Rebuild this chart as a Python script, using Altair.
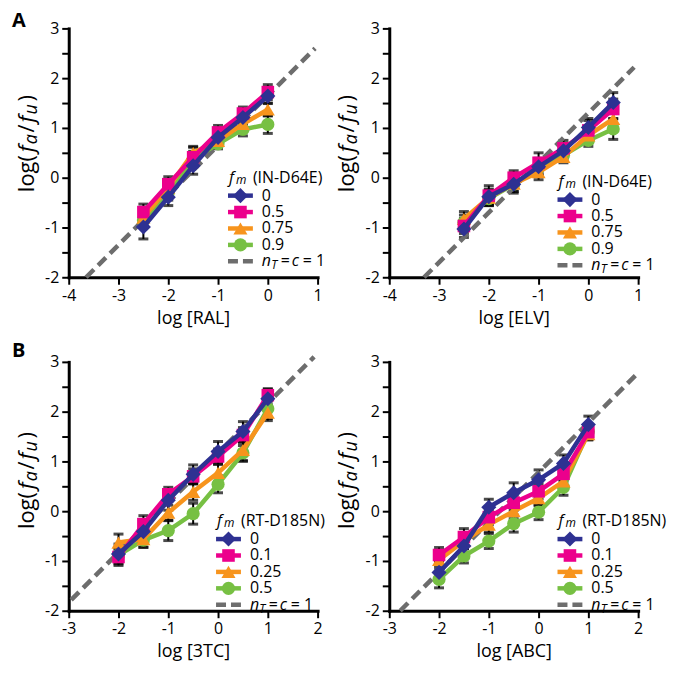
import altair as alt
import pandas as pd

FONT = "Open Sans"
PX = 50.0  # pixels per data unit in each 250-px panel

FM_A = ["0", "0.5", "0.75", "0.9"]
FM_B = ["0", "0.1", "0.25", "0.5"]
COLORS = ["#2e3192", "#ec008c", "#f7941d", "#77c043"]
SHAPES = ["diamond", "square", "triangle-up", "circle"]
SIZES = [230, 160, 200, 175]
DASH_GRAY = "#6d6d6d"

X_TICKS_A = [-4, -3, -2, -1, 0, 1]
X_TICKS_B = [-3, -2, -1, 0, 1, 2]
Y_TICKS = [-2, -1.5, -1, -0.5, 0, 0.5, 1, 1.5, 2, 2.5, 3]

# ---- Panel A, left: log [RAL] ----
RAL_X = [-2.5, -2, -1.5, -1, -0.5, 0]
RAL_Y0 = [-0.99, -0.39, 0.24, 0.81, 1.21, 1.64]
RAL_E0 = [0.24, 0.17, 0.17, 0.18, 0.16, 0.15]
RAL_Y1 = [-0.69, -0.13, 0.41, 0.91, 1.29, 1.72]
RAL_E1 = [0.16, 0.15, 0.20, 0.14, 0.13, 0.15]
RAL_Y2 = [-0.80, -0.20, 0.50, 0.74, 1.08, 1.37]
RAL_E2 = [0.15, 0.15, 0.13, 0.13, 0.15, 0.13]
RAL_Y3 = [-0.85, -0.30, 0.38, 0.68, 0.97, 1.07]
RAL_E3 = [0.15, 0.15, 0.15, 0.10, 0.13, 0.18]

# ---- Panel A, right: log [ELV] ----
ELV_X = [-2.5, -2, -1.5, -1, -0.5, 0, 0.5]
ELV_Y0 = [-1.03, -0.38, -0.13, 0.22, 0.54, 1.01, 1.51]
ELV_E0 = [0.17, 0.15, 0.18, 0.17, 0.15, 0.18, 0.20]
ELV_Y1 = [-0.97, -0.36, 0.00, 0.30, 0.59, 0.95, 1.38]
ELV_E1 = [0.15, 0.20, 0.14, 0.20, 0.16, 0.20, 0.20]
ELV_Y2 = [-0.83, -0.40, -0.12, 0.11, 0.42, 0.85, 1.18]
ELV_E2 = [0.15, 0.15, 0.15, 0.15, 0.12, 0.15, 0.15]
ELV_Y3 = [-0.90, -0.42, -0.13, 0.20, 0.45, 0.75, 0.98]
ELV_E3 = [0.15, 0.14, 0.15, 0.15, 0.12, 0.12, 0.21]

# ---- Panel B, left: log [3TC] ----
TTC_X = [-2, -1.5, -1, -0.5, 0, 0.5, 1]
TTC_Y0 = [-0.86, -0.41, 0.22, 0.74, 1.20, 1.60, 2.26]
TTC_E0 = [0.20, 0.20, 0.20, 0.19, 0.20, 0.20, 0.20]
TTC_Y1 = [-0.92, -0.26, 0.34, 0.70, 1.10, 1.53, 2.33]
TTC_E1 = [0.17, 0.17, 0.14, 0.15, 0.15, 0.15, 0.12]
TTC_Y2 = [-0.63, -0.56, -0.03, 0.39, 0.77, 1.23, 1.98]
TTC_E2 = [0.17, 0.17, 0.15, 0.17, 0.17, 0.23, 0.16]
TTC_Y3 = [-0.88, -0.58, -0.39, -0.05, 0.54, 1.17, 2.06]
TTC_E3 = [0.15, 0.14, 0.20, 0.21, 0.17, 0.15, 0.20]

# ---- Panel B, right: log [ABC] ----
ABC_X = [-2, -1.5, -1, -0.5, 0, 0.5, 1]
ABC_Y0 = [-1.23, -0.70, 0.08, 0.37, 0.63, 0.96, 1.74]
ABC_E0 = [0.20, 0.18, 0.16, 0.20, 0.20, 0.17, 0.17]
ABC_Y1 = [-0.88, -0.52, -0.12, 0.17, 0.40, 0.75, 1.59]
ABC_E1 = [0.15, 0.17, 0.15, 0.15, 0.15, 0.15, 0.15]
ABC_Y2 = [-0.98, -0.60, -0.27, 0.00, 0.26, 0.60, 1.55]
ABC_E2 = [0.15, 0.15, 0.15, 0.15, 0.15, 0.15, 0.12]
ABC_Y3 = [-1.37, -0.90, -0.60, -0.25, -0.02, 0.48, 1.60]
ABC_E3 = [0.17, 0.14, 0.15, 0.17, 0.15, 0.16, 0.15]

# y-axis title pieces (distance along the text in px)
YT_NORMAL = ["log(", "/", ")"]
YT_NORMAL_AT = [0, 60, 91]
YT_ITALIC = ["f", "f"]
YT_ITALIC_AT = [40, 70]
YT_SUB = ["a", "u"]
YT_SUB_AT = [48, 78]

LBL = "datum.value % 1 == 0 ? (datum.value < 0 ? '-' + abs(datum.value) : '' + datum.value) : ''"


def build_panel(letter, letter_dy, xdom, xticks, xtitle, group, fms, xs, ys_list, es_list,
                diag_c, diag_x, leg_x, leg_y, yt0):
    xsc = alt.Scale(domain=xdom, nice=False, zero=False)
    ysc = alt.Scale(domain=[-2, 3], nice=False, zero=False)
    xax = alt.Axis(values=xticks, title=xtitle, labelExpr=LBL)
    yax = alt.Axis(values=Y_TICKS, title=None, labelExpr=LBL)

    def X(f):
        return alt.X(f, type="quantitative", scale=xsc, axis=xax)

    def Y(f):
        return alt.Y(f, type="quantitative", scale=ysc, axis=yax)

    layers = []
    rows = []
    for k in range(4):
        for xv, yv, ev in zip(xs, ys_list[k], es_list[k]):
            rows.append({"x": xv, "lo": yv - ev, "hi": yv + ev})
    err = pd.DataFrame(rows)
    layers.append(alt.Chart(err).mark_rule(color="black", strokeWidth=2).encode(
        x=X("x"), y=Y("lo"), y2=alt.Y2("hi")))
    caps = pd.concat([err[["x", "lo"]].rename(columns={"lo": "y"}),
                      err[["x", "hi"]].rename(columns={"hi": "y"})], ignore_index=True)
    layers.append(alt.Chart(caps).mark_tick(color="black", thickness=3, size=10,
                                            orient="horizontal").encode(x=X("x"), y=Y("y")))

    diag = pd.DataFrame({"x": diag_x, "y": [v + diag_c for v in diag_x]})
    layers.append(alt.Chart(diag).mark_line(color=DASH_GRAY, strokeWidth=4.5,
                                            strokeDash=[11, 6]).encode(x=X("x"), y=Y("y")))

    for k in [3, 2, 1, 0]:
        d = pd.DataFrame({"x": xs, "y": ys_list[k]})
        layers.append(alt.Chart(d).mark_line(color=COLORS[k], strokeWidth=4.5).encode(
            x=X("x"), y=Y("y")))
        layers.append(alt.Chart(d).mark_point(shape=SHAPES[k], filled=True, opacity=1,
                                              size=SIZES[k], color=COLORS[k]).encode(
            x=X("x"), y=Y("y")))

    # legend
    row_y = [leg_y - 0.36 - 0.33 * i for i in range(5)]
    leg = pd.DataFrame({"s": fms, "x0": [leg_x] * 4, "x1": [leg_x + 0.5] * 4,
                        "xm": [leg_x + 0.25] * 4, "y": row_y[:4], "sz": SIZES})
    cscale = alt.Scale(domain=fms, range=COLORS)
    layers.append(alt.Chart(leg).mark_rule(strokeWidth=4.5).encode(
        x=X("x0"), x2=alt.X2("x1"), y=Y("y"),
        color=alt.Color("s:N", scale=cscale, legend=None)))
    layers.append(alt.Chart(leg).mark_point(filled=True, opacity=1).encode(
        x=X("xm"), y=Y("y"),
        color=alt.Color("s:N", scale=cscale, legend=None),
        shape=alt.Shape("s:N", scale=alt.Scale(domain=fms, range=SHAPES), legend=None),
        size=alt.Size("sz:Q", scale=None, legend=None)))
    dleg = pd.DataFrame({"x0": [leg_x], "x1": [leg_x + 0.5], "y": [row_y[4]]})
    layers.append(alt.Chart(dleg).mark_rule(color=DASH_GRAY, strokeWidth=4.5,
                                            strokeDash=[10, 5]).encode(
        x=X("x0"), x2=alt.X2("x1"), y=Y("y")))

    tx = leg_x + 0.02
    lx = leg_x + 0.68
    ty = leg_y
    normal = ([("(" + group + ")", tx + 24 / PX, ty)]
              + [(fms[i], lx, row_y[i]) for i in range(4)]
              + [("=", lx + 19 / PX, row_y[4]), ("= 1", lx + 41 / PX, row_y[4])])
    italic = [("f", tx, ty), ("n", lx, row_y[4]), ("c", lx + 30 / PX, row_y[4])]
    small = [("m", tx + 7 / PX, ty - 2 / PX), ("T", lx + 9.5 / PX, row_y[4] - 4 / PX)]

    def tdf(items):
        return pd.DataFrame({"t": [a for a, _, _ in items], "x": [b for _, b, _ in items],
                             "y": [c for _, _, c in items]})

    base_t = dict(font=FONT, align="left", baseline="middle", color="black")
    layers.append(alt.Chart(tdf(normal)).mark_text(fontSize=16, **base_t).encode(
        x=X("x"), y=Y("y"), text=alt.Text("t:N")))
    layers.append(alt.Chart(tdf(italic)).mark_text(fontSize=16, fontStyle="italic", **base_t).encode(
        x=X("x"), y=Y("y"), text=alt.Text("t:N")))
    layers.append(alt.Chart(tdf(small)).mark_text(fontSize=12, fontStyle="italic", **base_t).encode(
        x=X("x"), y=Y("y"), text=alt.Text("t:N")))

    # rotated y-axis title built from pieces
    x0 = xdom[0]
    yt_base = dict(font=FONT, align="left", baseline="alphabetic", color="black", angle=270)
    ytn = pd.DataFrame({"t": YT_NORMAL, "x": [x0] * len(YT_NORMAL),
                        "y": [yt0 + a / PX for a in YT_NORMAL_AT]})
    yti = pd.DataFrame({"t": YT_ITALIC, "x": [x0] * len(YT_ITALIC),
                        "y": [yt0 + a / PX for a in YT_ITALIC_AT]})
    yts = pd.DataFrame({"t": YT_SUB, "x": [x0] * len(YT_SUB),
                        "y": [yt0 + a / PX for a in YT_SUB_AT]})
    layers.append(alt.Chart(ytn).mark_text(fontSize=22, dy=-35, **yt_base).encode(
        x=X("x"), y=Y("y"), text=alt.Text("t:N")))
    layers.append(alt.Chart(yti).mark_text(fontSize=22, dy=-35, fontStyle="italic", **yt_base).encode(
        x=X("x"), y=Y("y"), text=alt.Text("t:N")))
    layers.append(alt.Chart(yts).mark_text(fontSize=18, dy=-32, fontStyle="italic", **yt_base).encode(
        x=X("x"), y=Y("y"), text=alt.Text("t:N")))

    if letter:
        ldf = pd.DataFrame({"t": [letter], "x": [x0], "y": [3]})
        layers.append(alt.Chart(ldf).mark_text(font=FONT, fontSize=20, fontWeight="bold",
                                               align="left", baseline="top", color="black",
                                               dx=-57, dy=letter_dy).encode(
            x=X("x"), y=Y("y"), text=alt.Text("t:N")))

    return alt.layer(*layers).properties(width=250, height=250)


pA1 = build_panel("A", -17, [-4, 1], X_TICKS_A, "log [RAL]", "IN-D64E", FM_A, RAL_X,
                  [RAL_Y0, RAL_Y1, RAL_Y2, RAL_Y3], [RAL_E0, RAL_E1, RAL_E2, RAL_E3],
                  1.65, [-3.65, 0.95], -0.80, 0.0, -0.29)
pA2 = build_panel(None, 0, [-4, 1], X_TICKS_A, "log [ELV]", "IN-D64E", FM_A, ELV_X,
                  [ELV_Y0, ELV_Y1, ELV_Y2, ELV_Y3], [ELV_E0, ELV_E1, ELV_E2, ELV_E3],
                  1.30, [-3.30, 0.92], -0.62, -0.08, -0.29)
pB1 = build_panel("B", -21, [-3, 2], X_TICKS_B, "log [3TC]", "RT-D185N", FM_B, TTC_X,
                  [TTC_Y0, TTC_Y1, TTC_Y2, TTC_Y3], [TTC_E0, TTC_E1, TTC_E2, TTC_E3],
                  1.17, [-2.95, 1.93], -0.04, -0.20, -0.36)
pB2 = build_panel(None, 0, [-3, 2], X_TICKS_B, "log [ABC]", "RT-D185N", FM_B, ABC_X,
                  [ABC_Y0, ABC_Y1, ABC_Y2, ABC_Y3], [ABC_E0, ABC_E1, ABC_E2, ABC_E3],
                  0.78, [-2.78, 2.02], 0.38, -0.20, -0.36)

chart = alt.concat(pA1, pA2, pB1, pB2, columns=2, spacing={"row": 85, "column": 72},
                   bounds="flush").resolve_scale(
    color="independent", shape="independent").properties(
    padding={"left": 4, "top": 2, "right": 0, "bottom": 0}
).configure_view(strokeWidth=0).configure_axis(
    domainColor="black", domainWidth=3, domainCap="square", tickColor="black", tickWidth=2,
    tickSize=7, labelFont=FONT, labelFontSize=16, labelColor="black", titleFont=FONT,
    titleFontSize=18, titleFontWeight="normal", titleColor="black", labelPadding=3,
    titlePadding=6, grid=False, labelFlush=False, labelOverlap=False
)

chart.save("out.html", embed_options={"renderer": "svg", "actions": False})
